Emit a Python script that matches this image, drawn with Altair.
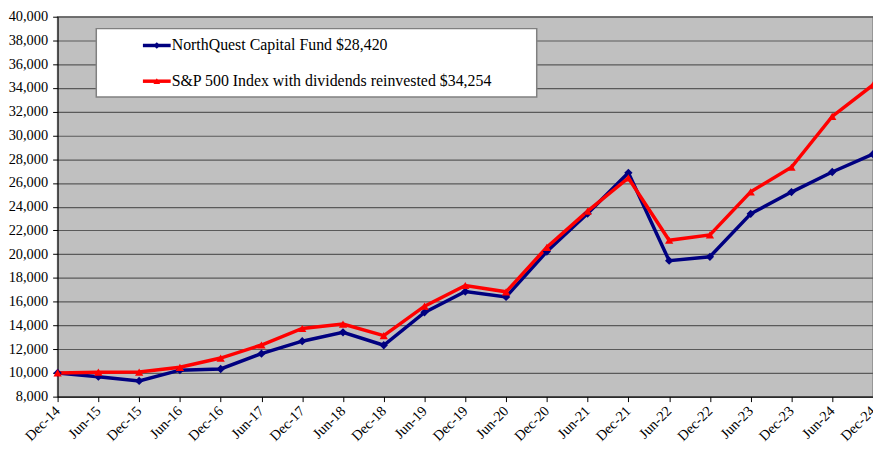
import altair as alt
import pandas as pd

periods = ["Dec-14", "Jun-15", "Dec-15", "Jun-16", "Dec-16", "Jun-17", "Dec-17",
           "Jun-18", "Dec-18", "Jun-19", "Dec-19", "Jun-20", "Dec-20", "Jun-21",
           "Dec-21", "Jun-22", "Dec-22", "Jun-23", "Dec-23", "Jun-24", "Dec-24"]
fund = [10000, 9680, 9320, 10230, 10330, 11620, 12670, 13420, 12330, 15100,
        16850, 16400, 20220, 23420, 26850, 19450, 19780, 23400, 25230, 26920, 28420]
sp500 = [10000, 10060, 10070, 10470, 11250, 12350, 13740, 14110, 13140, 15620,
         17360, 16830, 20580, 23620, 26420, 21170, 21620, 25250, 27320, 31600, 34254]
series_names = ["NorthQuest Capital Fund $28,420",
                "S&P 500 Index with dividends reinvested $34,254"]
colors = ["#000080", "#FF0000"]
shapes = ["diamond", "triangle-up"]
y_ticks = list(range(8000, 40001, 2000))

rows = []
for p, f, s in zip(periods, fund, sp500):
    rows.append({"period": p, "series": series_names[0], "value": f})
    rows.append({"period": p, "series": series_names[1], "value": s})
df = pd.DataFrame(rows)

FONT = "Liberation Serif, Times New Roman, serif"

x_axis = alt.Axis(title=None, labelAngle=-45, labelAlign="right",
                  labelBaseline="middle", tickSize=5, tickColor="#000000",
                  domainColor="#000000", labelPadding=7, grid=False,
                  labelFont="Times New Roman", labelFontSize=14.5, labelColor="#000000")
y_axis = alt.Axis(title=None, values=y_ticks, format=",.0f", tickSize=5,
                  tickColor="#000000", domainColor="#000000", labelPadding=5,
                  grid=True, gridColor="#5a5a5a", gridWidth=1.2, gridOpacity=1,
                  labelFont="serif", labelFontSize=14.5, labelColor="#000000")

x_enc = alt.X("period:O", sort=periods,
              scale=alt.Scale(type="point", padding=0), axis=x_axis)
y_enc = alt.Y("value:Q",
              scale=alt.Scale(domain=[8000, 40000], nice=False, zero=False),
              axis=y_axis)
color_enc = alt.Color("series:N", scale=alt.Scale(domain=series_names, range=colors),
                      legend=None)
shape_enc = alt.Shape("series:N", scale=alt.Scale(domain=series_names, range=shapes),
                      legend=None)

lines = alt.Chart(df).mark_line(strokeWidth=3.5).encode(
    x=x_enc, y=y_enc, color=color_enc, order=alt.Order("series:N"))
points = alt.Chart(df).mark_point(filled=True, opacity=1, size=70).encode(
    x=x_enc, y=y_enc, color=color_enc, shape=shape_enc)

leg_df = pd.DataFrame({"series": series_names})

box = alt.Chart(leg_df.head(1)).mark_rect(
    fill="#FFFFFF", stroke="#808080", strokeWidth=1.5).encode(
    x=alt.value(39), x2=alt.value(483), y=alt.value(12), y2=alt.value(81))

legend_layers = [box]
row_y = [29, 65]
for i, name in enumerate(series_names):
    sub = leg_df[leg_df["series"] == name]
    legend_layers.append(alt.Chart(sub).mark_rule(
        color=colors[i], strokeWidth=3.5).encode(
        x=alt.value(86), x2=alt.value(114), y=alt.value(row_y[i])))
    legend_layers.append(alt.Chart(sub).mark_point(
        filled=True, opacity=1, size=45, shape=shapes[i], color=colors[i]).encode(
        x=alt.value(100), y=alt.value(row_y[i])))
    legend_layers.append(alt.Chart(sub).mark_text(
        align="left", baseline="middle", font=FONT, fontSize=16,
        color="#000000").encode(
        x=alt.value(115), y=alt.value(row_y[i]), text="series:N"))

chart = alt.layer(lines, points, *legend_layers).properties(
    width=822, height=383,
    background="#FFFFFF",
    autosize=alt.AutoSizeParams(type="none"),
    padding={"left": 50, "top": 7, "right": 0, "bottom": 52},
).configure_view(
    fill="#C0C0C0", stroke="#8a8a8a", strokeWidth=1.5
)

chart.save("out.html", embed_options={"renderer": "svg", "actions": False})
